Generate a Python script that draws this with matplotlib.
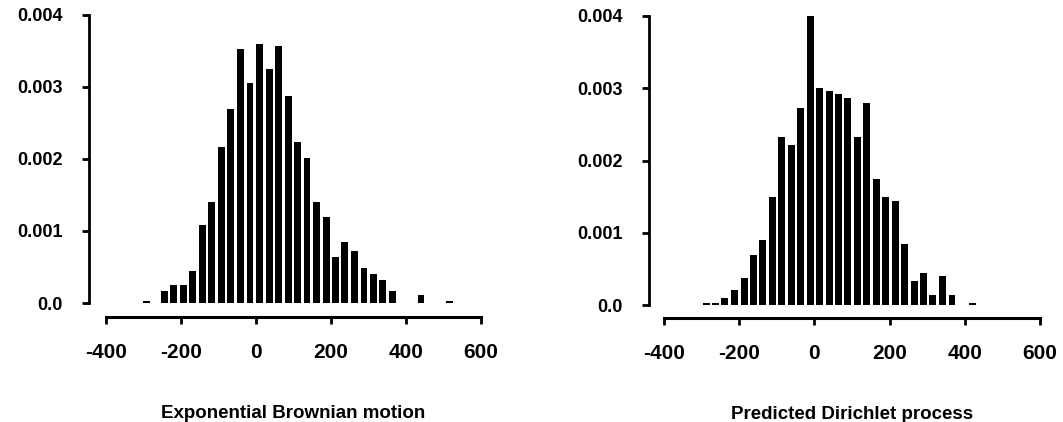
import matplotlib.pyplot as plt

# bin centres and densities
ebm_x = [-293, -245, -219, -194, -169, -143, -118, -93, -67, -41, -16, 10, 35,
         61, 86, 111, 136, 161, 187, 212, 237, 262, 288, 313, 338, 363, 440, 515]
ebm_y = [0.00003, 0.00017, 0.00025, 0.00025, 0.00045, 0.00108, 0.0014, 0.00217,
         0.0027, 0.00353, 0.00306, 0.0036, 0.00325, 0.00357, 0.00288, 0.00224,
         0.00201, 0.0014, 0.0012, 0.00064, 0.00085, 0.00072, 0.00049, 0.0004,
         0.00032, 0.00016, 0.00011, 0.00003]

dp_x = [-288, -263, -238, -212, -187, -162, -137, -112, -87, -62, -37, -11, 14,
        39, 64, 89, 114, 139, 164, 189, 215, 240, 265, 290, 315, 340, 366, 420]
dp_y = [0.00003, 0.00003, 0.0001, 0.00021, 0.00038, 0.00069, 0.0009, 0.00149,
        0.00233, 0.00221, 0.00272, 0.004, 0.003, 0.00296, 0.00292, 0.00287,
        0.00233, 0.0028, 0.00175, 0.00149, 0.00144, 0.00084, 0.00033, 0.00044,
        0.00014, 0.00041, 0.00014, 0.00003]

x_ticks = [-400, -200, 0, 200, 400, 600]
y_ticks = [0.0, 0.001, 0.002, 0.003, 0.004]
y_labels = ["0.0", "0.001", "0.002", "0.003", "0.004"]

plt.rcParams['font.family'] = ['Liberation Sans', 'DejaVu Sans']
plt.rcParams['font.weight'] = 'bold'

fig = plt.figure(figsize=(10.63, 4.22), dpi=100)


def draw_panel(rect, xs, ys, label, off_left, off_bottom):
    ax = fig.add_axes(rect)
    ax.bar(xs, ys, width=18.5, color='black', linewidth=0)

    # spines first: moving them resets the tick styling
    for side in ['top', 'right']:
        ax.spines[side].set_visible(False)
    ax.spines['left'].set_position(('outward', off_left))
    ax.spines['bottom'].set_position(('outward', off_bottom))
    ax.spines['left'].set_linewidth(2)
    ax.spines['bottom'].set_linewidth(2.2)

    ax.set_xlim(-400, 600)
    ax.set_ylim(0, 0.004)
    ax.spines['left'].set_bounds(0, 0.004)
    ax.spines['bottom'].set_bounds(-400, 600)

    ax.set_xticks(x_ticks)
    ax.set_xticklabels([str(t) for t in x_ticks])
    ax.set_yticks(y_ticks)
    ax.set_yticklabels(y_labels)

    ax.tick_params(axis='x', length=5, width=2, pad=14, labelsize=15)
    ax.tick_params(axis='y', length=5, width=2, pad=14, labelsize=13)

    ax.set_xlabel(label, fontsize=13.5, fontweight='bold', labelpad=31)
    return ax


draw_panel([106 / 1063, 119 / 422, 375 / 1063, 288 / 422],
           ebm_x, ebm_y, "Exponential Brownian motion", 12, 10)
draw_panel([664 / 1063, 116.7 / 422, 376 / 1063, 289.6 / 422],
           dp_x, dp_y, "Predicted Dirichlet process", 11, 9)

plt.savefig("out.png", dpi=100)
plt.close()
